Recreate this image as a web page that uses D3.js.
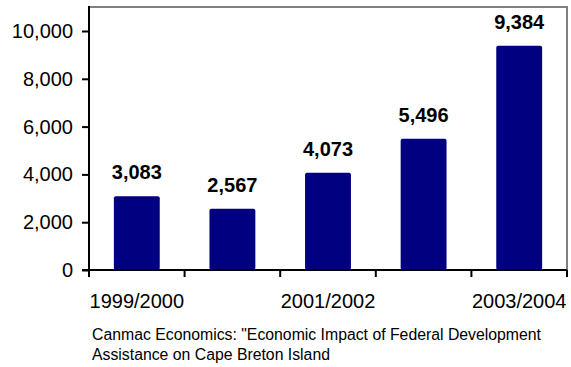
<!DOCTYPE html>
<head>
<meta charset="utf-8">
<title>Bar Chart</title>
<script src="https://d3js.org/d3.v7.min.js"></script>
<style>
body { margin: 0; background: #fff; }
text { font-family: Arial, "Liberation Sans", sans-serif; }
</style>
</head>
<body>
<div id="container"></div>
<script>
//---------------------------DATA-------------------------------//
const years = ["1999/2000", "2000/2001", "2001/2002", "2002/2003", "2003/2004"];
const amounts = [3083, 2567, 4073, 5496, 9384];
const yTicks = [0, 2000, 4000, 6000, 8000, 10000];
const sourceLines = [
    "Canmac Economics: \"Economic Impact of Federal Development",
    "Assistance on Cape Breton Island"
];

//---------------------------SVG--------------------------------//
const width = 571;
const height = 367;
const plotLeft = 89, plotRight = 567, plotTop = 7, plotBottom = 270;

const svg = d3.select("div#container").append("svg")
    .attr("width", width)
    .attr("height", height);

//--------------------------SCALES------------------------------//
const xScale = d3.scaleBand()
    .domain(years)
    .range([plotLeft, plotRight])
    .paddingInner(0.52)
    .paddingOuter(0.26);

const yScale = d3.scaleLinear()
    .domain([0, 10000])
    .range([plotBottom, 31]);

//--------------------------FRAME-------------------------------//
svg.append("path")
    .attr("d", "M" + plotLeft + "," + plotTop + "H" + plotRight + "V" + plotBottom)
    .attr("fill", "none")
    .attr("stroke", "#808080")
    .attr("stroke-width", 2);

//--------------------------BARS--------------------------------//
svg.selectAll("rect.bar")
    .data(amounts)
    .join("rect")
    .attr("class", "bar")
    .attr("x", (d, i) => xScale(years[i]))
    .attr("y", d => yScale(d))
    .attr("width", xScale.bandwidth())
    .attr("height", d => yScale(0) - yScale(d))
    .attr("rx", 2)
    .attr("fill", "#000080");

svg.selectAll("text.val")
    .data(amounts)
    .join("text")
    .attr("class", "val")
    .attr("x", (d, i) => xScale(years[i]) + xScale.bandwidth() / 2)
    .attr("y", d => yScale(d) - 17)
    .attr("text-anchor", "middle")
    .style("font-size", "20px")
    .style("font-weight", "bold")
    .text(d => d3.format(",")(d));

//--------------------------AXES--------------------------------//
const yaxis = d3.axisLeft(yScale)
    .tickValues(yTicks)
    .tickFormat(d3.format(","))
    .tickSize(7)
    .tickPadding(9);

const gy = svg.append("g")
    .attr("transform", "translate(" + plotLeft + ",0)")
    .call(yaxis);
gy.select(".domain").remove();
gy.selectAll("line").attr("stroke", "#000").attr("stroke-width", 2);
gy.selectAll("text").style("font-size", "20px").attr("fill", "#000");

// y axis line
svg.append("line")
    .attr("x1", plotLeft).attr("x2", plotLeft)
    .attr("y1", plotTop - 1).attr("y2", plotBottom + 7)
    .attr("stroke", "#000").attr("stroke-width", 2);

// x axis line and ticks at category edges
svg.append("line")
    .attr("x1", plotLeft - 7).attr("x2", plotRight)
    .attr("y1", plotBottom).attr("y2", plotBottom)
    .attr("stroke", "#000").attr("stroke-width", 2);

const step = xScale.step();
svg.selectAll("line.xtick")
    .data(d3.range(years.length + 1))
    .join("line")
    .attr("class", "xtick")
    .attr("x1", i => xScale(years[0]) - xScale.paddingOuter() * step + i * step)
    .attr("x2", i => xScale(years[0]) - xScale.paddingOuter() * step + i * step)
    .attr("y1", plotBottom)
    .attr("y2", plotBottom + 7)
    .attr("stroke", "#000").attr("stroke-width", 2);

svg.selectAll("text.xlab")
    .data(years.filter((d, i) => i % 2 === 0))
    .join("text")
    .attr("class", "xlab")
    .attr("x", d => xScale(d) + xScale.bandwidth() / 2)
    .attr("y", 308)
    .attr("text-anchor", "middle")
    .style("font-size", "20px")
    .text(d => d);

//--------------------------SOURCE------------------------------//
svg.selectAll("text.src")
    .data(sourceLines)
    .join("text")
    .attr("class", "src")
    .attr("x", 92)
    .attr("y", (d, i) => 340 + i * 20)
    .style("font-size", "15.8px")
    .attr("fill", "#000")
    .text(d => d);
</script>
</body>
